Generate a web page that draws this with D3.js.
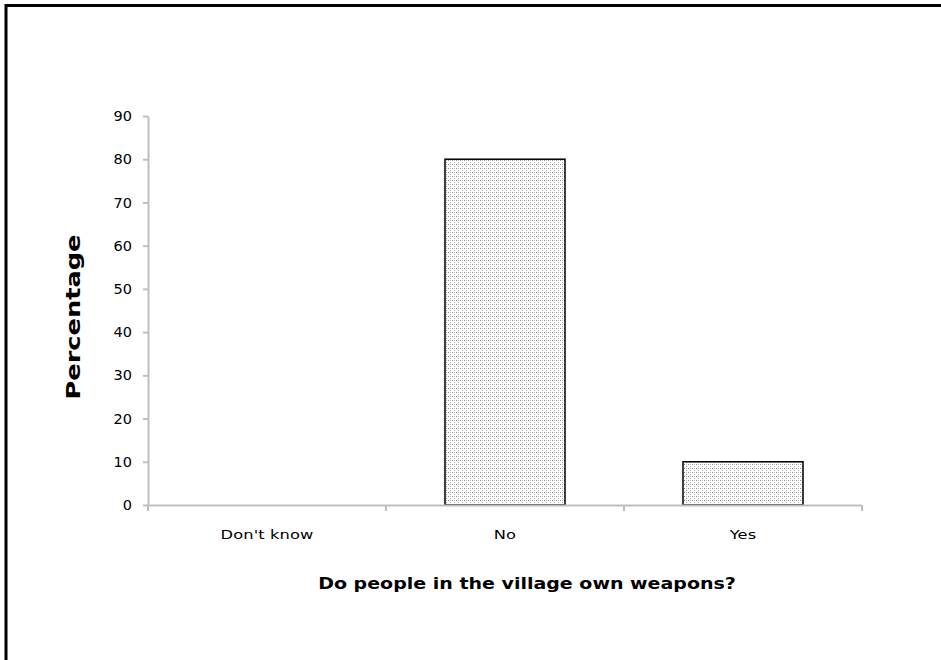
<!DOCTYPE html>
<html><head><meta charset="utf-8">
<script src="https://cdn.jsdelivr.net/npm/d3@7"></script>
<style>body{margin:0;background:#fff;} svg{display:block;}</style>
</head><body>
<svg id="chart" width="941" height="660"></svg>
<script>
const categories = ["Don't know", "No", "Yes"];
const values = [0, 80, 10];
const yTicks = [0, 10, 20, 30, 40, 50, 60, 70, 80, 90];
const yTitle = "Percentage";
const xTitle = "Do people in the village own weapons?";

(function(){
const svg = d3.select("#chart");
const defs = svg.append("defs");
const pat = defs.append("pattern").attr("id","dots").attr("patternUnits","userSpaceOnUse")
  .attr("width",4).attr("height",4);
pat.append("rect").attr("width",4).attr("height",4).attr("fill","#fff");
pat.append("rect").attr("x",0).attr("y",0).attr("width",1).attr("height",1).attr("fill","#888");
pat.append("rect").attr("x",2).attr("y",2).attr("width",1).attr("height",1).attr("fill","#aaa");
pat.append("rect").attr("x",2).attr("y",0).attr("width",1).attr("height",1).attr("fill","#bbb");

// frame
svg.append("rect").attr("x",6).attr("y",5.5).attr("width",1000).attr("height",800)
  .attr("fill","none").attr("stroke","#000").attr("stroke-width",3);

const pLeft = 148, pRight = 862, pTop = 116, pBottom = 505;
const x = d3.scaleBand().domain(categories).range([pLeft, pRight]).paddingInner(0).paddingOuter(0);
const y = d3.scaleLinear().domain([0, 90]).range([pBottom, pTop]);
const barW = 120;

const g = svg.append("g");
g.selectAll(".bar").data(categories.map((c,i)=>({c, v: values[i]})).filter(d=>d.v>0))
  .enter().append("rect")
  .attr("x", d => x(d.c) + x.bandwidth()/2 - barW/2)
  .attr("y", d => y(d.v))
  .attr("width", barW)
  .attr("height", d => y(0) - y(d.v))
  .attr("fill","url(#dots)").attr("stroke","#000").attr("stroke-width",1.5);

// y axis
const yAxis = g.append("g").attr("transform",`translate(${pLeft},0)`)
  .call(d3.axisLeft(y).tickValues(yTicks).tickSize(5).tickPadding(11).tickSizeOuter(0));
yAxis.select(".domain").attr("stroke","#bfbfbf").attr("stroke-width",2);
yAxis.selectAll(".tick line").attr("stroke","#bfbfbf").attr("stroke-width",2);
yAxis.selectAll(".tick text").attr("font-family","'DejaVu Sans', sans-serif")
  .attr("font-size",14.5).attr("fill","#000");

// x axis
const xAxis = g.append("g").attr("transform",`translate(0,${pBottom})`)
  .call(d3.axisBottom(x).tickSize(0).tickPadding(25));
xAxis.select(".domain").attr("stroke","#bfbfbf").attr("stroke-width",2);
xAxis.selectAll(".tick text").attr("font-family","'DejaVu Sans', sans-serif")
  .attr("font-size",13).attr("letter-spacing","0.1px").attr("fill","#000")
  .attr("transform","scale(1.25,1)");
const bounds = [pLeft].concat(categories.map(c => x(c) + x.bandwidth()));
g.selectAll(".btick").data(bounds).enter().append("line")
  .attr("x1",d=>d).attr("x2",d=>d).attr("y1",pBottom).attr("y2",pBottom+6)
  .attr("stroke","#bfbfbf").attr("stroke-width",2);

// titles (stretched horizontally to match the wide bitmap font)
function stretched(parent, txt, size, targetW, tf) {
  const gg = parent.append("g").attr("transform", tf);
  const t = gg.append("text").attr("text-anchor","middle")
    .attr("font-family","'DejaVu Sans', sans-serif").attr("font-weight","bold")
    .attr("font-size",size).text(txt);
  const w = t.node().getComputedTextLength();
  t.attr("transform",`scale(${targetW / w},1)`);
}
stretched(svg, yTitle, 20, 165, "translate(80,317) rotate(-90)");
stretched(svg, xTitle, 15, 418, "translate(527,589)");
})();
</script>
</body></html>
